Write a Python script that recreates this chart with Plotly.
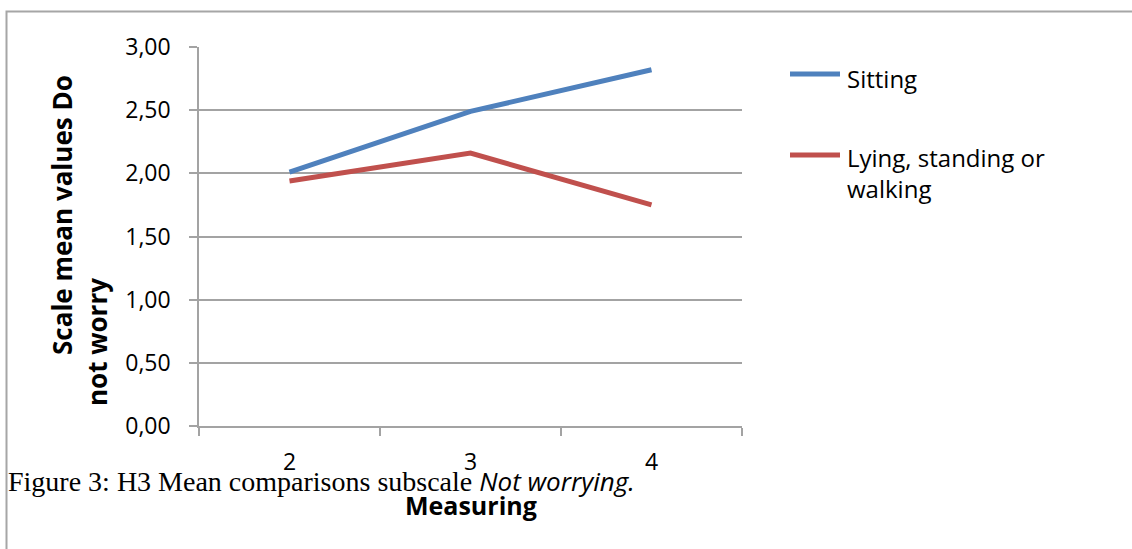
import plotly.graph_objects as go

categories = ["2", "3", "4"]
series_names = ["Sitting", "Lying, standing or<br>walking"]
series_colors = ["#4F81BD", "#C0504D"]
sitting = [2.01, 2.49, 2.82]
lying = [1.94, 2.16, 1.75]
y_ticks = [0, 0.5, 1.0, 1.5, 2.0, 2.5, 3.0]
y_tick_labels = ["0,00", "0,50", "1,00", "1,50", "2,00", "2,50", "3,00"]

SANS = "Open Sans"
GRID = "#a3a3a3"

fig = go.Figure()
for name, vals, col in zip(series_names, [sitting, lying], series_colors):
    fig.add_trace(go.Scatter(x=categories, y=vals, mode="lines", name=name,
                             line=dict(color=col, width=5), showlegend=False))

W, H = 1132, 549
L, R, T, B = 199, 390, 47, 123
pw, ph = W - L - R, H - T - B


def px(x):
    return (x - L) / pw


def py(y):
    return (H - B - y) / ph


shapes = [dict(type="rect", xref="paper", yref="paper",
               x0=px(6.5), x1=px(1145), y0=py(11.5), y1=py(570),
               line=dict(color="#a6a6a6", width=2), layer="below")]
annotations = []
# legend (drawn manually to match the original key geometry)
legend_line_y = [74, 155]
legend_text_y = [78, 173]
for name, col, ly, ty in zip(series_names, series_colors, legend_line_y, legend_text_y):
    shapes.append(dict(type="line", xref="paper", yref="paper",
                       x0=px(790), x1=px(840), y0=py(ly), y1=py(ly),
                       line=dict(color=col, width=5)))
    annotations.append(dict(text=name, xref="paper", yref="paper", x=px(845), y=py(ty),
                            xanchor="left", yanchor="middle", align="left",
                            showarrow=False, font=dict(family=SANS, size=24)))

annotations += [
    dict(text="<b>Scale mean values Do</b>", xref="paper", yref="paper",
         x=px(62), y=py(215), textangle=-90, showarrow=False,
         font=dict(family=SANS, size=26), xanchor="center", yanchor="middle"),
    dict(text="<b>not worry</b>", xref="paper", yref="paper",
         x=px(97), y=py(342), textangle=-90, showarrow=False,
         font=dict(family=SANS, size=26), xanchor="center", yanchor="middle"),
    dict(text="<b>Measuring</b>", xref="paper", yref="paper",
         x=px(471), y=py(505), showarrow=False,
         font=dict(family=SANS, size=25), xanchor="center", yanchor="middle"),
    dict(text="Figure 3: H3 Mean comparisons subscale "
              "<span style='font-family:Open Sans;font-size:26px'><i>Not worrying.</i></span>",
         xref="paper", yref="paper", x=px(6), y=py(481), showarrow=False,
         font=dict(family="Liberation Serif", size=28), xanchor="left",
         yanchor="middle"),
]

fig.update_layout(
    width=W, height=H,
    margin=dict(l=L, r=R, t=T, b=B),
    paper_bgcolor="white", plot_bgcolor="white",
    font=dict(family=SANS, size=23, color="black"),
    showlegend=False,
    xaxis=dict(type="category", range=[-0.5, 2.5], showgrid=False,
               showline=True, linecolor=GRID, linewidth=1.5,
               ticks="outside", ticklen=8, tickcolor=GRID, tickwidth=1.5,
               tickson="boundaries", ticklabelstandoff=15,
               tickfont=dict(family=SANS, size=23)),
    yaxis=dict(range=[0, 3], tickvals=y_ticks, ticktext=y_tick_labels,
               showgrid=True, gridcolor=GRID, gridwidth=1.5,
               showline=True, linecolor=GRID, linewidth=1.5,
               ticks="outside", ticklen=8, tickcolor=GRID, tickwidth=1.5,
               ticklabelstandoff=14, zeroline=False,
               tickfont=dict(family=SANS, size=23)),
    shapes=shapes,
    annotations=annotations,
)

fig.write_html("out.html", config={"displayModeBar": False},
               post_script="document.body.style.margin='0px';")
